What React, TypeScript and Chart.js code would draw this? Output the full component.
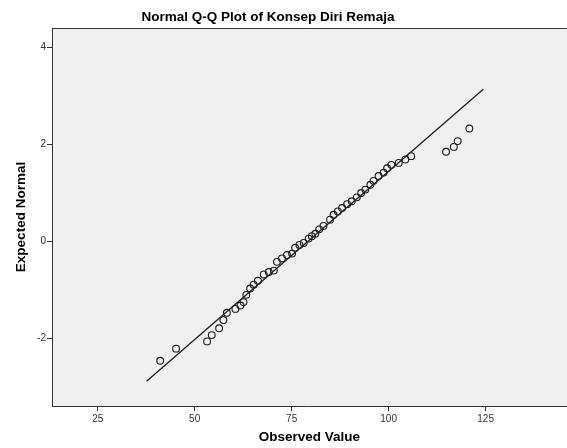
import React, { useEffect, useRef } from "react";
import { Chart, registerables } from "chart.js";

Chart.register(...registerables);

const chartTitle = "Normal Q-Q Plot of Konsep Diri Remaja";
const xAxisTitle = "Observed Value";
const yAxisTitle = "Expected Normal";

const xTickValues = [25, 50, 75, 100, 125];
const yTickValues = [-2, 0, 2, 4];

const observedValues = [
  41.1, 45.2, 53.2, 54.4, 56.3, 57.4, 58.3, 60.5, 61.8, 62.6, 63.3, 64.3, 65.2,
  66.3, 67.8, 69.1, 70.4, 71.2, 72.5, 73.8, 75.1, 75.9, 77.0, 78.1, 79.4, 80.2,
  81.1, 82.1, 83.2, 84.9, 85.8, 86.9, 88.0, 89.3, 90.5, 91.8, 92.9, 94.0, 95.3,
  96.1, 97.4, 98.7, 99.6, 100.7, 102.6, 104.3, 105.8, 114.8, 116.8, 117.8, 120.8,
];
const expectedNormal = [
  -2.47, -2.22, -2.07, -1.94, -1.8, -1.63, -1.48, -1.4, -1.33, -1.26, -1.11,
  -0.98, -0.9, -0.82, -0.69, -0.64, -0.61, -0.43, -0.36, -0.29, -0.26, -0.14,
  -0.08, -0.04, 0.05, 0.1, 0.15, 0.24, 0.31, 0.44, 0.54, 0.61, 0.68, 0.76,
  0.82, 0.9, 0.99, 1.06, 1.16, 1.24, 1.34, 1.41, 1.5, 1.57, 1.61, 1.68, 1.75,
  1.84, 1.94, 2.06, 2.32,
];

const refLineX = [37.6, 124.4];
const refLineY = [-2.89, 3.13];

const FONT = "'Liberation Sans', Arial, sans-serif";
const CANVAS_W = 572;
const CANVAS_H = 448;

export default function App() {
  const canvasRef = useRef<HTMLCanvasElement | null>(null);

  useEffect(() => {
    const canvas = canvasRef.current;
    if (!canvas) return;

    const decor = {
      id: "decor",
      beforeDraw(chart: any) {
        const { ctx, chartArea } = chart;
        ctx.save();
        ctx.fillStyle = "#ffffff";
        ctx.fillRect(0, 0, chart.width, chart.height);
        ctx.fillStyle = "#f0f0f0";
        ctx.fillRect(
          chartArea.left,
          chartArea.top,
          chartArea.right - chartArea.left,
          chartArea.bottom - chartArea.top
        );
        ctx.restore();
      },
      afterDraw(chart: any) {
        const { ctx, chartArea } = chart;
        ctx.save();
        ctx.strokeStyle = "#333333";
        ctx.lineWidth = 1;
        ctx.beginPath();
        ctx.moveTo(chartArea.left, chartArea.top + 0.5);
        ctx.lineTo(chartArea.right, chartArea.top + 0.5);
        ctx.stroke();
        ctx.fillStyle = "#000000";
        ctx.font = `bold 13.5px ${FONT}`;
        ctx.textAlign = "center";
        ctx.textBaseline = "alphabetic";
        ctx.fillText(chartTitle, 268, 21);
        ctx.restore();
      },
    };

    const chart = new Chart(canvas, {
      type: "scatter",
      data: {
        datasets: [
          {
            type: "line",
            data: refLineX.map((x, i) => ({ x, y: refLineY[i] })),
            borderColor: "#222222",
            borderWidth: 1.4,
            pointRadius: 0,
            fill: false,
          } as any,
          {
            data: observedValues.map((x, i) => ({ x, y: expectedNormal[i] })),
            pointStyle: "circle",
            pointRadius: 3.4,
            pointBorderWidth: 1.1,
            borderColor: "#1a1a1a",
            backgroundColor: "rgba(0,0,0,0)",
            pointBackgroundColor: "rgba(0,0,0,0)",
            pointBorderColor: "#1a1a1a",
          },
        ],
      },
      options: {
        animation: false,
        responsive: false,
        maintainAspectRatio: false,
        layout: { padding: { top: 28, left: 0, right: 0, bottom: 0 } },
        plugins: {
          legend: { display: false },
          tooltip: { enabled: false },
          title: { display: false },
        },
        scales: {
          x: {
            type: "linear",
            min: 13.22,
            max: 145.95,
            afterBuildTicks: (scale: any) => {
              scale.ticks = xTickValues.map((v) => ({ value: v }));
            },
            afterFit: (scale: any) => {
              scale.height = 42;
            },
            grid: {
              display: true,
              drawOnChartArea: false,
              drawTicks: true,
              tickLength: 5,
              color: "#333333",
            },
            border: { display: true, color: "#333333", width: 1 },
            ticks: {
              padding: 2,
              color: "#333333",
              font: { family: FONT, size: 10 },
              maxRotation: 0,
              callback: (v: any) => String(v),
            },
            title: {
              display: true,
              text: xAxisTitle,
              color: "#000000",
              font: { family: FONT, size: 13.5, weight: "bold", lineHeight: 1.2 },
              padding: { top: 0, bottom: 3 },
            },
          },
          y: {
            type: "linear",
            min: -3.402,
            max: 4.392,
            afterBuildTicks: (scale: any) => {
              scale.ticks = yTickValues.map((v) => ({ value: v }));
            },
            afterFit: (scale: any) => {
              scale.width = 52;
            },
            grid: {
              display: true,
              drawOnChartArea: false,
              drawTicks: true,
              tickLength: 5,
              color: "#333333",
            },
            border: { display: true, color: "#333333", width: 1 },
            ticks: {
              padding: 1,
              color: "#333333",
              font: { family: FONT, size: 10 },
              callback: (v: any) => String(v),
            },
            title: {
              display: true,
              text: yAxisTitle,
              color: "#000000",
              font: { family: FONT, size: 13.5, weight: "bold", lineHeight: 1.2 },
              padding: { top: 13, bottom: 0 },
            },
          },
        },
      },
      plugins: [decor],
    });

    return () => chart.destroy();
  }, []);

  return (
    <div
      style={{
        position: "fixed",
        left: 0,
        top: 0,
        width: 567,
        height: 448,
        overflow: "hidden",
        background: "#fff",
      }}
    >
      <canvas
        ref={canvasRef}
        width={CANVAS_W}
        height={CANVAS_H}
        style={{ width: CANVAS_W, height: CANVAS_H, display: "block" }}
      />
    </div>
  );
}
